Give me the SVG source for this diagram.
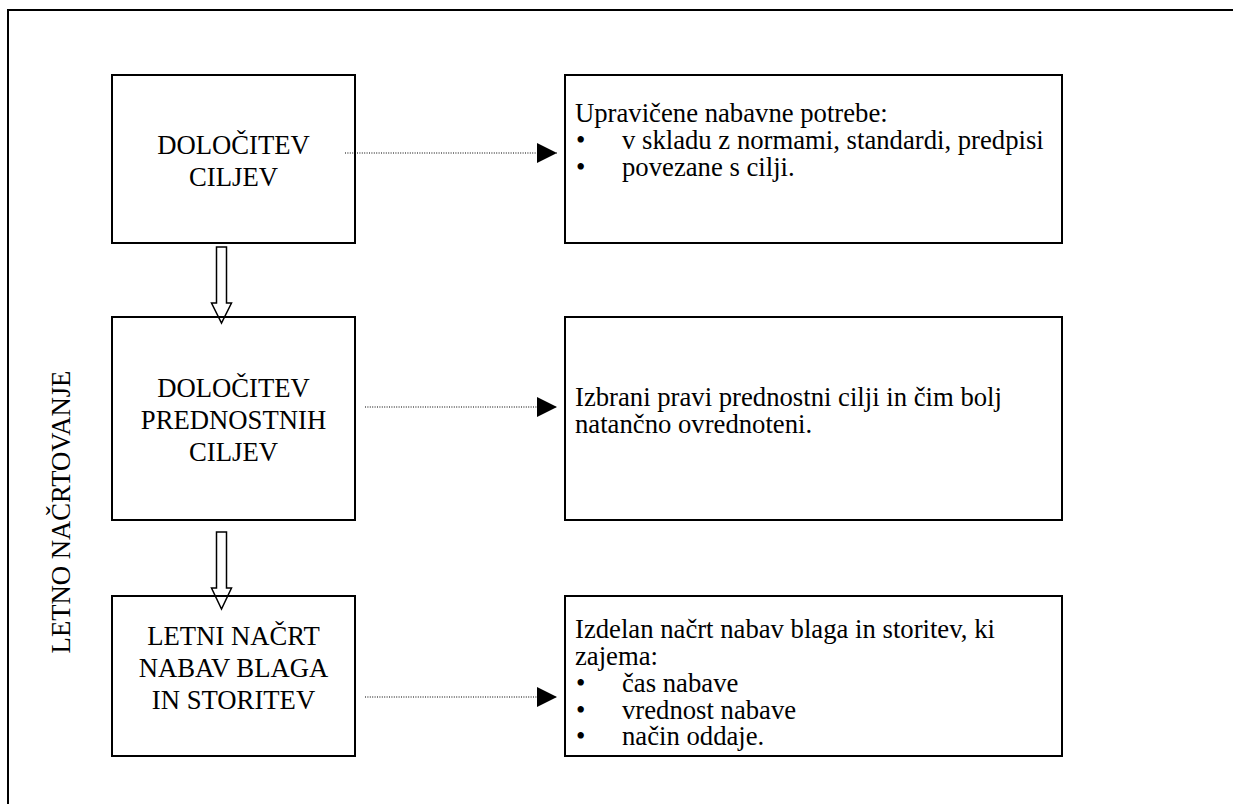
<svg xmlns="http://www.w3.org/2000/svg" width="1233" height="804" viewBox="0 0 1233 804">
  <style>
    .frame { fill: none; stroke: #000; stroke-width: 2; }
    .box { fill: #fff; stroke: #000; stroke-width: 2; }
    .t { font-family: "Liberation Serif", "Times New Roman", "DejaVu Serif", serif; font-size: 26.7px; fill: #000; }
    .c { text-anchor: middle; }
    .dot { fill: none; stroke: #000; stroke-width: 1.2; stroke-dasharray: 1 1.4; }
    .hollow { fill: none; stroke: #000; stroke-width: 1.5; stroke-linejoin: miter; }
  </style>
  <defs>
    <marker id="tri" viewBox="0 0 20 20" refX="20" refY="10" markerWidth="20" markerHeight="20" markerUnits="userSpaceOnUse" orient="auto">
      <path d="M0,0 L20,10 L0,20 Z" fill="#000"/>
    </marker>
  </defs>

  <rect width="1233" height="804" fill="#fff"/>

  <!-- outer frame: open on the right and bottom -->
  <path class="frame" d="M8,804 V10 H1233"/>

  <!-- side caption -->
  <text class="t c" transform="translate(70,512) rotate(-90)">LETNO NAČRTOVANJE</text>

  <g id="node-dolocitev-ciljev">
    <rect class="box" x="112" y="75" width="243" height="168"/>
    <text class="t c" x="233.5" y="154">DOLOČITEV</text>
    <text class="t c" x="233.5" y="186">CILJEV</text>
  </g>

  <g id="node-prednostni-cilji">
    <rect class="box" x="112" y="317" width="243" height="203"/>
    <text class="t c" x="233.5" y="397">DOLOČITEV</text>
    <text class="t c" x="233.5" y="429">PREDNOSTNIH</text>
    <text class="t c" x="233.5" y="461">CILJEV</text>
  </g>

  <g id="node-letni-nacrt">
    <rect class="box" x="112" y="596" width="243" height="160"/>
    <text class="t c" x="233.5" y="645">LETNI NAČRT</text>
    <text class="t c" x="233.5" y="677">NABAV BLAGA</text>
    <text class="t c" x="233.5" y="709">IN STORITEV</text>
  </g>

  <g id="node-nabavne-potrebe">
    <rect class="box" x="565" y="75" width="497" height="168"/>
    <text class="t" x="575" y="122">Upravičene nabavne potrebe:</text>
    <text class="t" x="576" y="149">•</text>
    <text class="t" x="622" y="149">v skladu z normami, standardi, predpisi</text>
    <text class="t" x="576" y="175.5">•</text>
    <text class="t" x="622" y="175.5">povezane s cilji.</text>
  </g>

  <g id="node-izbrani-cilji">
    <rect class="box" x="565" y="317" width="497" height="203"/>
    <text class="t" x="575" y="406">Izbrani pravi prednostni cilji in čim bolj</text>
    <text class="t" x="575" y="433">natančno ovrednoteni.</text>
  </g>

  <g id="node-izdelan-nacrt">
    <rect class="box" x="565" y="596" width="497" height="160"/>
    <text class="t" x="575" y="638">Izdelan načrt nabav blaga in storitev, ki</text>
    <text class="t" x="575" y="665">zajema:</text>
    <text class="t" x="576" y="692">•</text>
    <text class="t" x="622" y="692">čas nabave</text>
    <text class="t" x="576" y="718.5">•</text>
    <text class="t" x="622" y="718.5">vrednost nabave</text>
    <text class="t" x="576" y="745">•</text>
    <text class="t" x="622" y="745">način oddaje.</text>
  </g>

  <g id="connectors">
    <!-- dotted links to the outcomes -->
    <line class="dot" x1="345" y1="153" x2="557" y2="153" marker-end="url(#tri)"/>
    <line class="dot" x1="365" y1="407" x2="557" y2="407" marker-end="url(#tri)"/>
    <line class="dot" x1="365" y1="697" x2="557" y2="697" marker-end="url(#tri)"/>
    <!-- hollow block arrows between the steps -->
    <path class="hollow" d="M216.5,247 H226.5 V303 H231.5 L221.5,323 L211.5,303 H216.5 Z"/>
    <path class="hollow" d="M216.5,532 H226.5 V588 H231.5 L221.5,609 L211.5,588 H216.5 Z"/>
  </g>
</svg>
